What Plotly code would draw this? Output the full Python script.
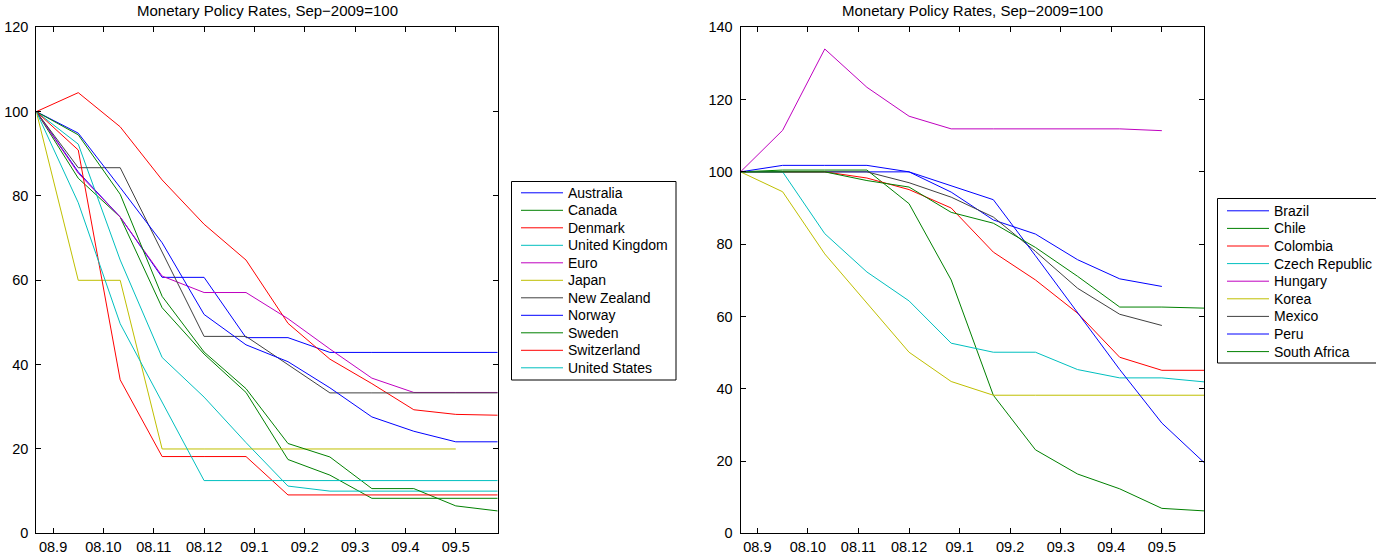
import numpy as np
import plotly.graph_objects as go

# ---------------- data ----------------
tick_labels = ["08.9", "08.10", "08.11", "08.12", "09.1", "09.2", "09.3", "09.4", "09.5"]
title_text = "Monetary Policy Rates, Sep\u22122009=100"

adv_names = ["Australia", "Canada", "Denmark", "United Kingdom", "Euro", "Japan",
             "New Zealand", "Norway", "Sweden", "Switzerland", "United States"]
australia = [100, 85.7, 75, 60.7, 60.7, 46.4, 46.4, 42.9, 42.9, 42.9, 42.9, 42.9]
canada = [100, 84.2, 75, 53.5, 42.5, 33.4, 17.5, 13.8, 8.3, 8.3, 8.3, 8.3]
denmark = [100, 104.5, 96.4, 83.8, 73.3, 64.8, 49.8, 41.3, 35.5, 29.3, 28.2, 28.0]
united_kingdom = [100, 92.3, 64.8, 41.7, 32.3, 21.5, 11.2, 10.0, 10.0, 10.0, 10.0, 10.0]
euro = [100, 85.4, 75, 61.0, 57.1, 57.1, 50.9, 43.7, 36.8, 33.4, 33.4, 33.4]
japan = [100, 60, 60, 20, 20, 20, 20, 20, 20, 20, 20, None]
new_zealand = [100, 86.7, 86.7, 66.7, 46.7, 46.7, 40.0, 33.3, 33.3, 33.3, 33.3, 33.3]
norway = [100, 94.9, 82.0, 68.9, 51.9, 44.7, 40.7, 34.5, 27.6, 24.2, 21.7, 21.7]
sweden = [100, 94.5, 80.4, 56.2, 43.0, 34.3, 21.3, 18.1, 10.6, 10.6, 6.5, 5.3]
switzerland = [100, 90.9, 36.4, 18.2, 18.2, 18.2, 9.1, 9.1, 9.1, 9.1, 9.1, 9.1]
united_states = [100, 78.4, 49.7, 31.0, 12.5, 12.5, 12.5, 12.5, 12.5, 12.5, 12.5, 12.5]
adv_values = [australia, canada, denmark, united_kingdom, euro, japan,
              new_zealand, norway, sweden, switzerland, united_states]

em_names = ["Brazil", "Chile", "Colombia", "Czech Republic", "Hungary", "Korea",
            "Mexico", "Peru", "South Africa"]
brazil = [100, 100, 100, 100, 100, 94.4, 86.7, 82.8, 75.7, 70.4, 68.3, None]
chile = [100, 100.5, 100.5, 100.5, 91.2, 70.1, 38.2, 23.1, 16.4, 12.3, 6.9, 6.2]
colombia = [100, 100, 100, 98.3, 95.1, 90.0, 77.8, 70.1, 60.9, 48.7, 45.1, 45.1]
czech = [100, 100, 82.9, 72.3, 64.3, 52.6, 50.1, 50.1, 45.3, 43.0, 43.0, 41.9]
hungary = [100, 111.5, 134.0, 123.4, 115.4, 111.9, 111.9, 111.9, 111.9, 111.9, 111.4, None]
korea = [100, 94.5, 77.3, 63.7, 50.1, 42.0, 38.2, 38.2, 38.2, 38.2, 38.2, 38.2]
mexico = [100, 100, 100, 100, 97.0, 93.0, 87.5, 78.0, 67.8, 60.6, 57.5, None]
peru = [100, 101.8, 101.8, 101.8, 100, 96.2, 92.3, 76.8, 60.9, 45.3, 30.5, 19.6]
south_africa = [100, 100, 100, 97.6, 95.8, 88.8, 85.8, 79.1, 71.1, 62.6, 62.6, 62.3]
em_values = [brazil, chile, colombia, czech, hungary, korea, mexico, peru, south_africa]

# ---------------- style ----------------
matlab_colors = ["rgb(0,0,255)", "rgb(0,128,0)", "rgb(255,0,0)", "rgb(0,191,191)",
                 "rgb(191,0,191)", "rgb(191,191,0)", "rgb(64,64,64)"]
W, H = 1376, 556
FONT = "Liberation Sans, Arial, Helvetica, sans-serif"
TICK_SIZE = 14.5
TITLE_SIZE = 15
LEGEND_SIZE = 14

n_obs = len(australia)
x = np.arange(n_obs)
tick_pos = 0.4 + 1.2 * np.arange(len(tick_labels))


def px_x(p):
    return p / W


def px_y(p):
    return (H - p) / H


fig = go.Figure(layout=dict(template="none"))
for k, (name, vals) in enumerate(zip(adv_names, adv_values)):
    fig.add_trace(go.Scatter(x=x, y=vals, mode="lines", name=name,
                             line=dict(color=matlab_colors[k % 7], width=1),
                             xaxis="x", yaxis="y", showlegend=False))
for k, (name, vals) in enumerate(zip(em_names, em_values)):
    fig.add_trace(go.Scatter(x=x, y=vals, mode="lines", name=name,
                             line=dict(color=matlab_colors[k % 7], width=1),
                             xaxis="x2", yaxis="y2", showlegend=False))

axis_common = dict(showline=True, linecolor="black", linewidth=1, mirror="ticks",
                   ticks="inside", ticklen=5, tickcolor="black", tickwidth=1,
                   showgrid=False, zeroline=False, automargin=False,
                   tickfont=dict(family=FONT, size=TICK_SIZE, color="black"))

plot_top, plot_bottom = 27.3, 533.3
left_dom = [36.3, 497.7]
right_dom = [740.5, 1204.0]

fig.update_layout(
    width=W, height=H, margin=dict(l=0, r=0, t=0, b=0, autoexpand=False),
    paper_bgcolor="white", plot_bgcolor="white",
    font=dict(family=FONT, color="black"),
    showlegend=False,
    xaxis=dict(domain=[px_x(left_dom[0]), px_x(left_dom[1])], range=[0, n_obs - 1],
               anchor="y", tickvals=tick_pos, ticktext=tick_labels, **axis_common),
    yaxis=dict(domain=[px_y(plot_bottom), px_y(plot_top)], range=[0, 120], anchor="x",
               tickvals=list(range(0, 121, 20)), ticklabelstandoff=4, **axis_common),
    xaxis2=dict(domain=[px_x(right_dom[0]), px_x(right_dom[1])], range=[0, n_obs - 1],
                anchor="y2", tickvals=tick_pos, ticktext=tick_labels, **axis_common),
    yaxis2=dict(domain=[px_y(plot_bottom), px_y(plot_top)], range=[0, 140], anchor="x2",
                tickvals=list(range(0, 141, 20)), ticklabelstandoff=4, **axis_common),
)

# titles
for dom in (left_dom, right_dom):
    fig.add_annotation(text=title_text, xref="paper", yref="paper",
                       x=px_x((dom[0] + dom[1]) / 2), y=px_y(11),
                       xanchor="center", yanchor="middle", showarrow=False,
                       font=dict(family=FONT, size=TITLE_SIZE, color="black"))


# legends (MATLAB-style boxes)
def add_legend(names, box, first_row, row_gap, line_x, text_x):
    x0, y0, x1, y1 = box
    fig.add_shape(type="rect", xref="paper", yref="paper",
                  x0=px_x(x0), x1=px_x(x1), y0=px_y(y1), y1=px_y(y0),
                  line=dict(color="black", width=1), fillcolor="white", layer="above")
    for k, name in enumerate(names):
        yc = first_row + k * row_gap
        fig.add_shape(type="line", xref="paper", yref="paper",
                      x0=px_x(line_x[0]), x1=px_x(line_x[1]), y0=px_y(yc), y1=px_y(yc),
                      line=dict(color=matlab_colors[k % 7], width=1), layer="above")
        fig.add_annotation(text=name, xref="paper", yref="paper",
                           x=px_x(text_x), y=px_y(yc), xanchor="left", yanchor="middle",
                           showarrow=False, borderpad=0,
                           font=dict(family=FONT, size=LEGEND_SIZE, color="black"))


add_legend(adv_names, (511.5, 181.5, 676, 380), 192.8, 17.5, (521, 563), 567)
add_legend(em_names, (1217.5, 198.5, 1400, 363), 210.8, 17.6, (1227, 1269), 1273)

fig.write_html(
    "out.html",
    config={"displayModeBar": False},
    post_script="document.body.style.margin='0';document.body.style.overflow='hidden';",
)
